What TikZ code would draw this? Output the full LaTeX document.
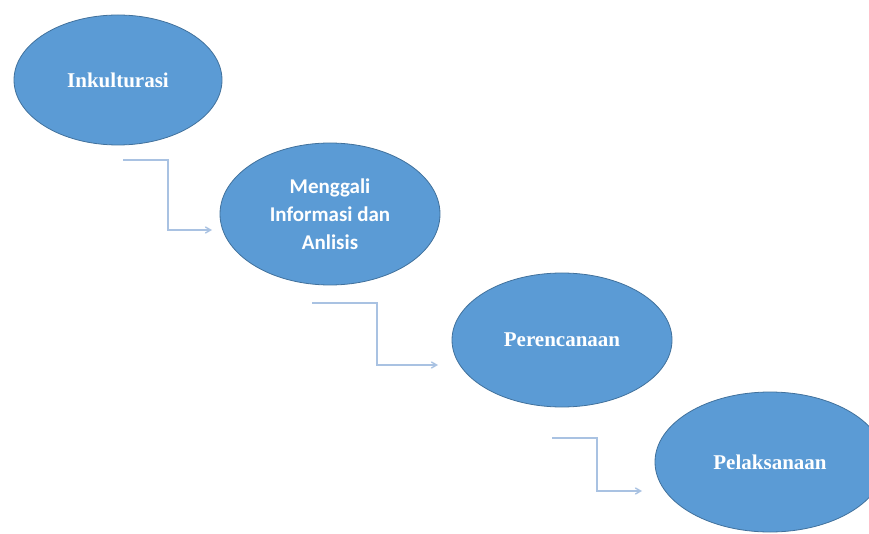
\documentclass[tikz,border=0pt]{standalone}
\usepackage{fontspec}
\setmainfont{Liberation Serif}
\newfontfamily\carlito{Carlito}
\usepackage{xcolor}
\usepackage{tikz}
\usetikzlibrary{arrows,calc,shapes.geometric,positioning}
\definecolor{phasefill}{HTML}{5B9BD5}
\definecolor{phaseline}{HTML}{41719C}
\definecolor{linkcol}{HTML}{A9C2E2}
\tikzset{
  phase/.style={ellipse,draw=phaseline,line width=0.8pt,fill=phasefill,
    text=white,inner sep=0pt,align=center,
    font=\bfseries\fontsize{21}{28}\selectfont},
  link/.style={->,draw=linkcol,line width=1.4pt}
}
\newcommand{\phaseat}[5]{\node[phase,minimum width=#3,minimum height=#4] (#1) at #2 {#5} ;}
\newcommand{\linkfrom}[3]{\draw[link] (#1) -- ++(#3,0) |- (#2) ;}

\begin{document}
\begin{tikzpicture}[x=1pt,y=-1pt,>=angle 60]
        \useasboundingbox (0,0) rectangle (869,534);
        \phaseat{P1}{(118,80)}{208pt}{130pt}{Inkulturasi}
        \phaseat{P2}{(330,214)}{220pt}{142pt}{\carlito\bfseries Menggali\\\carlito\bfseries Informasi dan\\\carlito\bfseries Anlisis}
        \phaseat{P3}{(562,340)}{220pt}{134pt}{Perencanaan}
        \phaseat{P4}{(770,462)}{230pt}{140pt}{Pelaksanaan}
        \coordinate (S1) at (123,160);
        \coordinate (E1) at (212,230);
        \coordinate (S2) at (312,303);
        \coordinate (E2) at (438,365);
        \coordinate (S3) at (552,438);
        \coordinate (E3) at (642,491);
        \linkfrom{S1}{E1}{45}
        \linkfrom{S2}{E2}{65}
        \linkfrom{S3}{E3}{45}
    \end{tikzpicture}
\end{document}
